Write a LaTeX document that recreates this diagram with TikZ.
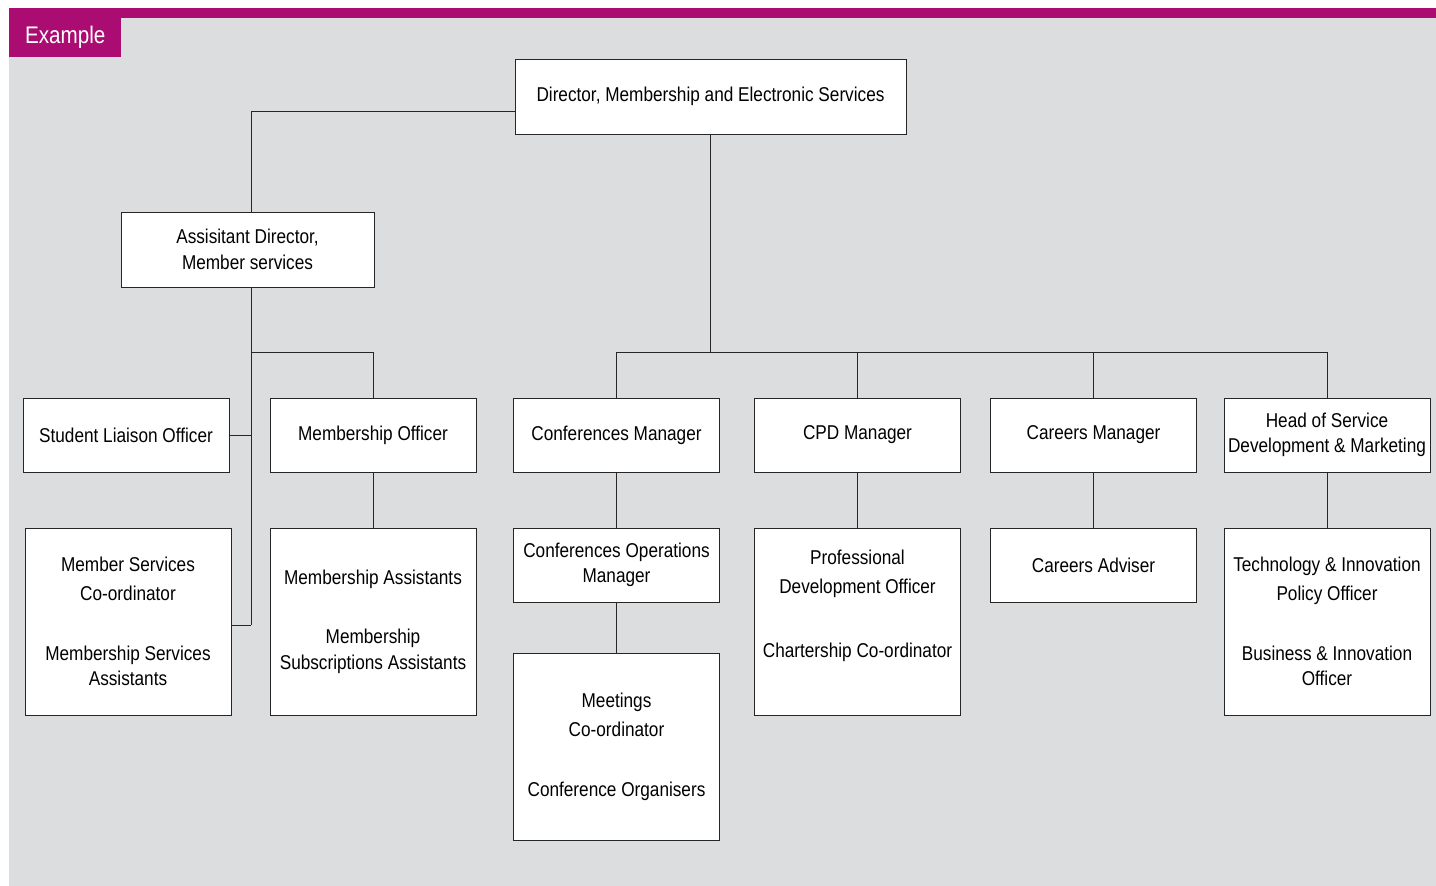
\documentclass[tikz,border=0pt]{standalone}
\usepackage{fontspec}
\setmainfont{Liberation Sans}[FakeStretch=0.86]
\definecolor{tabmagenta}{RGB}{170,12,114}
\definecolor{panelgray}{RGB}{220,221,223}
\tikzset{
  box/.style={draw=black!85, line width=1pt, fill=white, minimum width=206, minimum height=74,
    align=center, inner sep=2pt, font=\fontsize{20}{25.5}\selectfont},
  tallbox/.style={box, minimum height=187},
  link/.style={draw=black!85, line width=1pt}
}
\begin{document}
\begin{tikzpicture}[x=1pt,y=-1pt]
\useasboundingbox (0,0) rectangle (1436,886);
\fill[white] (0,0) rectangle (1436,886);
\fill[panelgray] (9,18) rectangle (1436,886);
\fill[tabmagenta] (9,8) rectangle (1436,18);
\node[fill=tabmagenta, text=white, minimum width=112, minimum height=39, inner sep=0pt,
  anchor=north west, font=\fontsize{24}{28}\selectfont] (tab) at (9,18) {Example};

\node[box, minimum width=391, minimum height=75] (dir) at (710.5,96.5) {Director, Membership and Electronic Services};
\node[box, minimum width=253, minimum height=75] (asst) at (247.5,249.5) {Assisitant Director,\\Member services};

\node[box] (sli) at (126,435) {Student Liaison Officer};
\node[box] (mo) at (373,435) {Membership Officer};
\node[box] (cm) at (616.5,435) {Conferences Manager};
\node[box] (cpd) at (857.5,435) {CPD Manager};
\node[box] (car) at (1093.5,435) {Careers Manager};
\node[box] (head) at (1327,435) {Head of Service\\Development \& Marketing};

\node[tallbox] (msc) at (128,621.5) {Member Services\\[4pt]Co-ordinator\\[34pt]Membership Services\\Assistants};
\node[tallbox] (ma) at (373,621.5) {Membership Assistants\\[34pt]Membership\\Subscriptions Assistants};
\node[box] (com) at (616.5,565) {Conferences Operations\\Manager};
\node[tallbox] (meet) at (616.5,746.5) {Meetings\\[4pt]Co-ordinator\\[34pt]Conference Organisers};
\node[tallbox] (pdo) at (857.5,621.5) {Professional\\[4pt]Development Officer\\[38pt]Chartership Co-ordinator\\[11pt]\mbox{}};
\node[box] (adv) at (1093.5,565) {Careers Adviser};
\node[tallbox] (tech) at (1327,621.5) {Technology \& Innovation\\[4pt]Policy Officer\\[34pt]Business \& Innovation\\Officer};

\coordinate (bus) at (0,352);
\coordinate (trunk) at ([xshift=3.5pt]asst.south);
\draw[link] ([yshift=-14.5pt]dir.west) -| ([xshift=3.5pt]asst.north);
\draw[link] (dir.south) -- (dir.south |- bus);
\draw[link] (cm.north) |- (head.north |- bus) -- (head.north);
\foreach \n in {cpd,car}
  \draw[link] (\n.north) -- (\n.north |- bus);
\draw[link] (trunk) -- ([yshift=-3.5pt]trunk |- msc.east);
\draw[link] (trunk |- bus) -| (mo.north);
\draw[link] (sli.east) -- (sli.east -| trunk);
\draw[link] ([yshift=-3.5pt]msc.east) -- ([yshift=-3.5pt]msc.east -| trunk);
\foreach \a/\b in {mo/ma,cm/com,com/meet,cpd/pdo,car/adv,head/tech}
  \draw[link] (\a) -- (\b);
\end{tikzpicture}
\end{document}
